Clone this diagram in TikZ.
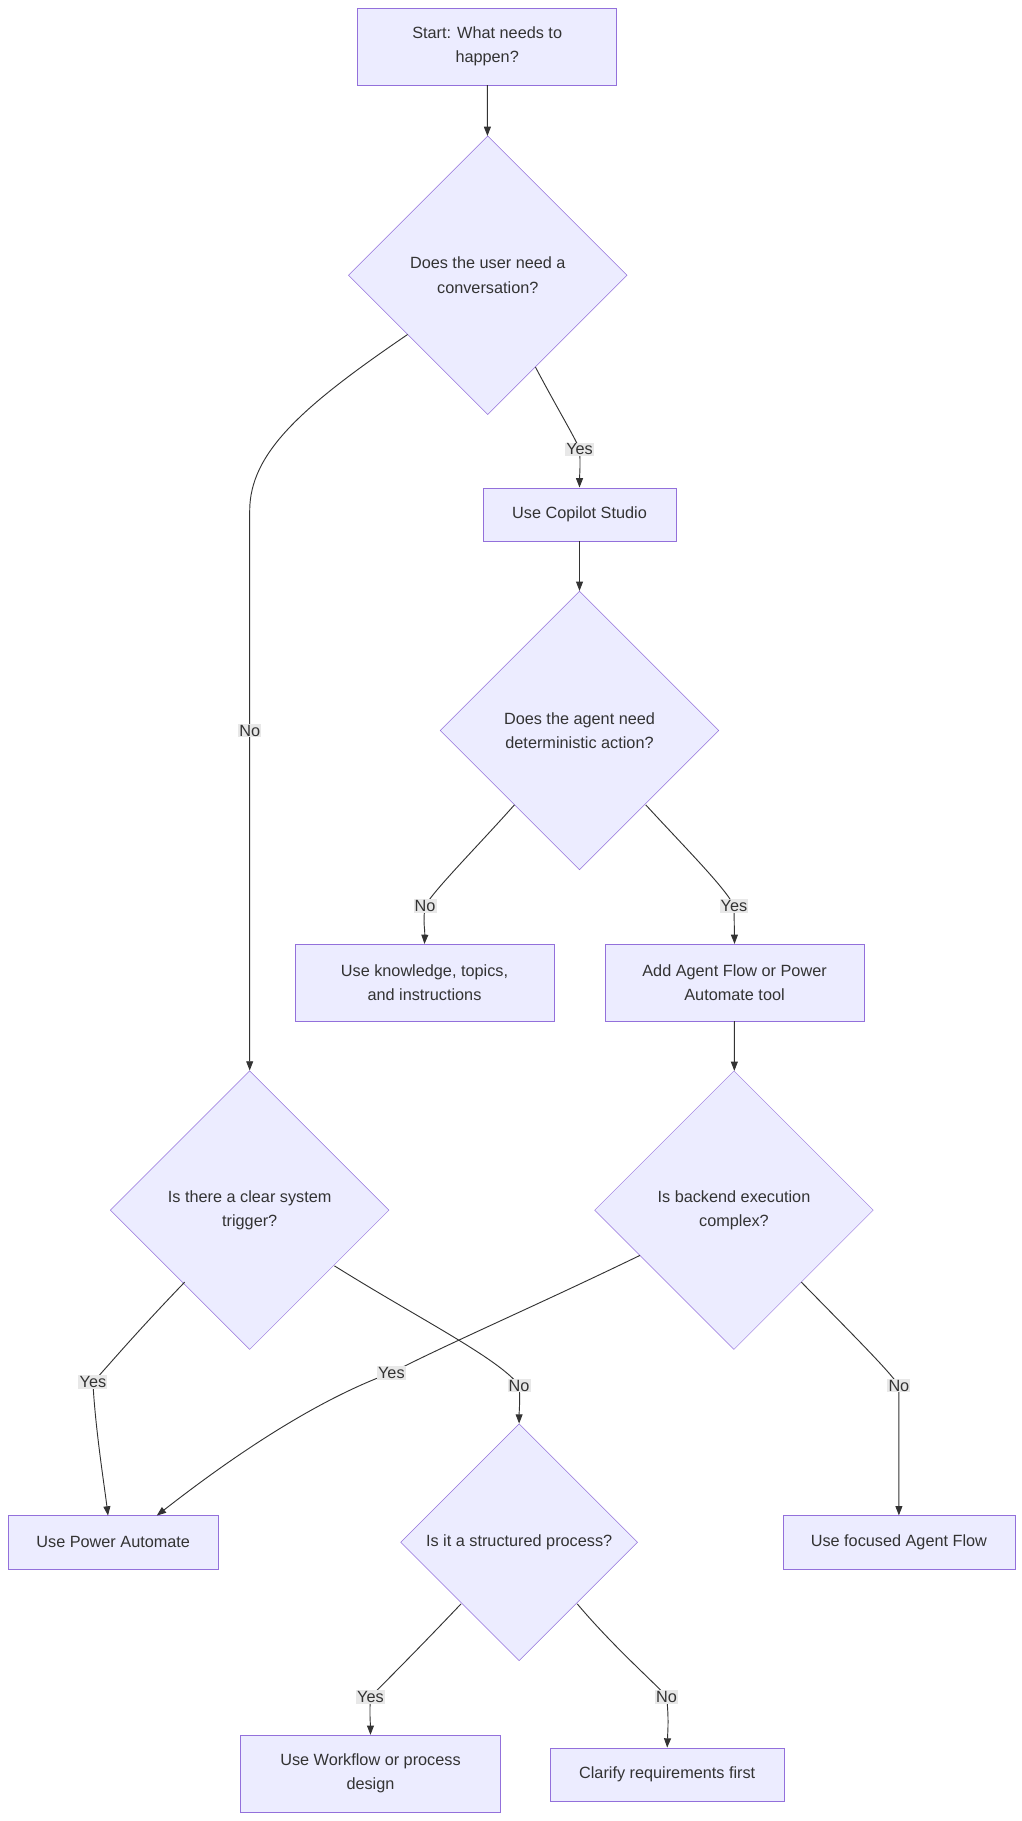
\documentclass[tikz,border=0pt]{standalone}
\usepackage{fontspec}
\setmainfont{Liberation Sans}
\usetikzlibrary{shapes.geometric,arrows.meta}
\definecolor{nfill}{HTML}{ECECFF}
\definecolor{ndraw}{HTML}{9370DB}
\definecolor{ntext}{HTML}{333333}
\definecolor{lfill}{HTML}{E8E8E8}
\begin{document}
\begin{tikzpicture}[x=1pt,y=-1pt,
  every node/.style={font=\fontsize{14}{21}\selectfont,text=ntext},
  box/.style={draw=ndraw,fill=nfill,inner sep=0pt,align=center},
  dia/.style={diamond,draw=ndraw,fill=nfill,inner sep=0pt,minimum width=#1,minimum height=#1,aspect=1,align=center},
  lbl/.style={fill=lfill,inner sep=1pt},
  arr/.style={draw=ntext,line width=0.8pt,-{Triangle[length=8pt,width=6pt]}}]
\useasboundingbox (0,0) rectangle (880,1568);
\node[box,minimum width=223,minimum height=66] (start) at (419.5,40) {Start: What needs to\\happen?};
\node[dia=240] (d1) at (420,237) {Does the user need a\\conversation?};
\node[box,minimum width=166,minimum height=46] (cop) at (499,443) {Use Copilot Studio};
\node[dia=240] (d2) at (499,629) {Does the agent need\\deterministic action?};
\node[box,minimum width=223,minimum height=66] (kn) at (365.5,846) {Use knowledge, topics,\\and instructions};
\node[box,minimum width=223,minimum height=66] (add) at (632.5,846) {Add Agent Flow or Power\\Automate tool};
\node[dia=240] (d3) at (215,1042) {Is there a clear system\\trigger?};
\node[dia=240] (d4) at (632,1042) {Is backend execution\\complex?};
\node[box,minimum width=181,minimum height=46] (pa) at (97.5,1328) {Use Power Automate};
\node[dia=204] (d5) at (447,1328) {Is it a structured process?};
\node[box,minimum width=200,minimum height=46] (foc) at (774,1328) {Use focused Agent Flow};
\node[box,minimum width=224,minimum height=66] (wf) at (319,1527) {Use Workflow or process\\design};
\node[box,minimum width=201,minimum height=46] (cl) at (574.5,1528) {Clarify requirements first};

\coordinate (l1) at (499,387);
\coordinate (l2) at (215,629);
\coordinate (l3) at (366,780);
\coordinate (l4) at (632,780);
\coordinate (l5) at (80,1190);
\coordinate (l6) at (447,1193);
\coordinate (l7) at (337,1182);
\coordinate (l8) at (774,1193);
\coordinate (l9) at (319,1461);
\coordinate (l10) at (574,1461);

\draw[arr] (start) -- (d1);
\draw[arr] (461,316) .. controls (480,352) and (497,380) .. (l1) .. controls (500,400) and (499,410) .. (cop.north);
\draw[arr] (351,288) .. controls (260,350) and (215,390) .. (215,440) -- (l2) -- (d3.north);
\draw[arr] (cop) -- (d2);
\draw[arr] (443,693) .. controls (410,730) and (375,765) .. (l3) .. controls (364,795) and (366,800) .. (kn.north);
\draw[arr] (556,693) .. controls (590,730) and (625,765) .. (l4) -- (add.north);
\draw[arr] (add) -- (d4);
\draw[arr] (159,1104) .. controls (110,1155) and (90,1180) .. (l5) .. controls (82,1230) and (90,1280) .. (93,1305);
\draw[arr] (288,1090) .. controls (360,1135) and (430,1170) .. (l6) .. controls (448,1205) and (447,1215) .. (d5.north);
\draw[arr] (551,1081) .. controls (460,1125) and (390,1155) .. (l7) .. controls (260,1210) and (180,1270) .. (135,1305);
\draw[arr] (690,1104) .. controls (740,1155) and (765,1180) .. (l8) .. controls (774,1230) and (774,1280) .. (foc.north);
\draw[arr] (397,1381) .. controls (360,1420) and (330,1450) .. (l9) .. controls (318,1475) and (319,1485) .. (wf.north);
\draw[arr] (497,1381) .. controls (530,1420) and (565,1450) .. (l10) .. controls (576,1480) and (575,1490) .. (cl.north);

\node[lbl] at (l1) {Yes};
\node[lbl] at (l2) {No};
\node[lbl] at (l3) {No};
\node[lbl] at (l4) {Yes};
\node[lbl] at (l5) {Yes};
\node[lbl] at (l6) {No};
\node[lbl] at (l7) {Yes};
\node[lbl] at (l8) {No};
\node[lbl] at (l9) {Yes};
\node[lbl] at (l10) {No};
\end{tikzpicture}
\end{document}
